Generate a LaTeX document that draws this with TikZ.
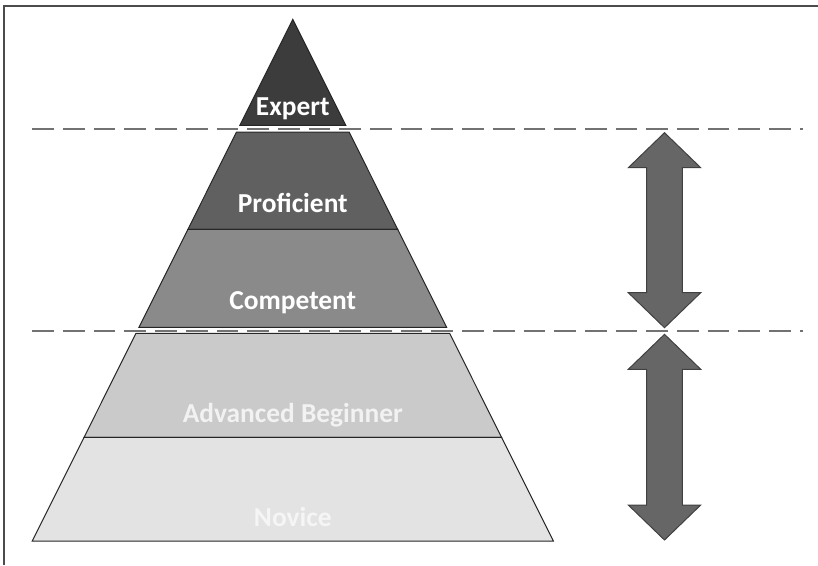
\documentclass[tikz,border=0pt]{standalone}
\usepackage{fontspec}
\setmainfont{Carlito}
\usepackage{tikz}
\usetikzlibrary{calc,positioning}

\definecolor{expertfill}{HTML}{3C3C3C}
\definecolor{proffill}{HTML}{606060}
\definecolor{compfill}{HTML}{8A8A8A}
\definecolor{advfill}{HTML}{CACACA}
\definecolor{novfill}{HTML}{E3E3E3}
\definecolor{arrowfill}{HTML}{666666}
\definecolor{arrowline}{HTML}{404040}
\definecolor{dashgray}{HTML}{727272}

\tikzset{
  layerline/.style={draw=black!85,line width=1pt},
  lbl/.style={anchor=base,font=\bfseries\fontsize{27.4}{32}\selectfont},
  levelline/.style={dashgray,line width=2pt,dash pattern=on 21.7pt off 9pt},
  bigarrow/.style={fill=arrowfill,draw=arrowline,line width=1pt},
  frameline/.style={draw=black!70,line width=2pt}
}

% one slice of the pyramid: fill, top y, bottom y
\newcommand{\pyrlayer}[3]{%
  \draw[layerline,fill=#1] ({292.8-(#2-19.3)*0.4994},#2) -- ({292.8+(#2-19.3)*0.4994},#2)
    -- ({292.8+(#3-19.3)*0.4994},#3) -- ({292.8-(#3-19.3)*0.4994},#3) -- cycle;}

% double headed block arrow: top tip y, bottom tip y
\newcommand{\dblarrow}[2]{%
  \draw[bigarrow] (664.5,#1) -- (700.7,#1+35) -- (682.3,#1+35) -- (682.3,#2-35)
    -- (700.7,#2-35) -- (664.5,#2) -- (628.3,#2-35) -- (646.7,#2-35)
    -- (646.7,#1+35) -- (628.3,#1+35) -- cycle;}

\begin{document}
\begin{tikzpicture}[x=1pt,y=-1pt]
\useasboundingbox (0,0) rectangle (818,565);
\draw[frameline] (4,565) -- (4,5.7) -- (818,5.7);

% pyramid
\pyrlayer{expertfill}{19.3}{125.3}
\pyrlayer{proffill}{132}{229.3}
\pyrlayer{compfill}{229.3}{327.3}
\pyrlayer{advfill}{333.3}{437.3}
\pyrlayer{novfill}{437.3}{541}

\node[lbl,text=white] (expert) at (292.8,115) {Expert};
\node[lbl,text=white] (proficient) at (292.8,212) {Proficient};
\node[lbl,text=white] (competent) at (292.8,309) {Competent};
\node[lbl,text=white!95!black] (advanced) at (292.8,422) {Advanced Beginner};
\node[lbl,text=white!96!black] (novice) at (292.8,526) {Novice};

% level boundaries
\draw[levelline] (32.3,129.3) -- (803.3,129.3);
\draw[levelline] (32.3,330.7) -- (803.3,330.7);

% arrows
\dblarrow{132.7}{327.7}
\dblarrow{334.3}{540}
\end{tikzpicture}
\end{document}
